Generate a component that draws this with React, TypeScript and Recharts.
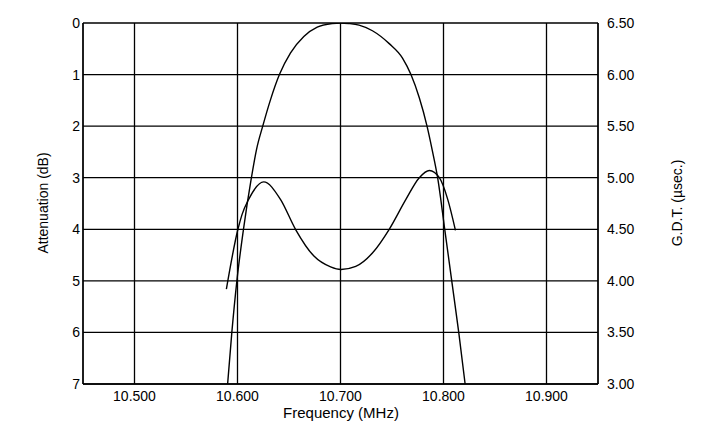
import { CartesianGrid, Label, Line, LineChart, XAxis, YAxis } from "recharts"

// attenuation curve (dB, left axis)
const attFreq = [
  10.5904, 10.5945, 10.5994, 10.6058, 10.6135, 10.6185, 10.6245, 10.632, 10.6407, 10.6515,
  10.6644, 10.6774, 10.692, 10.7002, 10.708, 10.718, 10.731, 10.7473, 10.7602, 10.7684,
  10.7765, 10.784, 10.7889, 10.7943, 10.8012, 10.808, 10.8148, 10.821,
]
const attDb = [
  7.0, 6.0, 5.0, 4.0, 3.0, 2.45, 2.0, 1.49, 1.0, 0.58,
  0.26, 0.08, 0.01, 0.0, 0.01, 0.04, 0.15, 0.4, 0.68, 1.0,
  1.45, 2.0, 2.45, 3.0, 4.0, 5.0, 6.0, 7.0,
]

// group delay time curve (usec, right axis)
const gdtFreq = [
  10.5892, 10.6004, 10.6043, 10.6108, 10.6254, 10.6417, 10.6563, 10.6742, 10.6904, 10.7005,
  10.7148, 10.731, 10.7473, 10.7635, 10.7765, 10.7863, 10.796, 10.8041, 10.8116,
]
const gdtUsec = [
  3.92, 4.5, 4.64, 4.79, 4.96, 4.79, 4.5, 4.24, 4.135, 4.11,
  4.14, 4.27, 4.5, 4.79, 5.0, 5.07, 5.0, 4.79, 4.49,
]

const freqTicks = [10.5, 10.6, 10.7, 10.8, 10.9]
const attTicks = [0, 1, 2, 3, 4, 5, 6, 7]
const gdtTicks = [3.0, 3.5, 4.0, 4.5, 5.0, 5.5, 6.0, 6.5]

const attData = attFreq.map((f, i) => ({ f, att: attDb[i] }))
const gdtData = gdtFreq.map((f, i) => ({ f, gdt: gdtUsec[i] }))

const font = "'Liberation Sans', Arial, sans-serif"
const tickStyle = { fill: "#000", fontSize: 14, fontFamily: font }

export default function App() {
  return (
    <div style={{ position: "absolute", left: 0, top: 0, background: "#fff" }}>
      <LineChart width={702} height={445} margin={{ top: 23, right: 0, bottom: 0, left: 0 }}>
        <CartesianGrid yAxisId="att" stroke="#000" strokeWidth={1.3} />
        <XAxis
          dataKey="f"
          type="number"
          domain={[10.45, 10.95]}
          ticks={freqTicks}
          allowDataOverflow
          height={61}
          tickLine={false}
          tickSize={0}
          tickMargin={7}
          stroke="#000"
          strokeWidth={1.3}
          tick={tickStyle}
          tickFormatter={(v: number) => v.toFixed(3)}
        >
          <Label
            content={() => (
              <text x={341} y={418} textAnchor="middle" fontSize={15} fontFamily={font} fill="#000">
                Frequency (MHz)
              </text>
            )}
          />
        </XAxis>
        <YAxis
          yAxisId="att"
          type="number"
          domain={[0, 7]}
          ticks={attTicks}
          reversed
          allowDataOverflow
          width={83}
          tickLine={false}
          tickSize={0}
          tickMargin={3}
          stroke="#000"
          strokeWidth={1.3}
          tick={tickStyle}
        >
          <Label
            content={() => (
              <text
                x={43}
                y={203}
                transform="rotate(-90 43 203)"
                textAnchor="middle"
                dominantBaseline="central"
                fontSize={14}
                fontFamily={font}
                fill="#000"
              >
                Attenuation (dB)
              </text>
            )}
          />
        </YAxis>
        <YAxis
          yAxisId="gdt"
          orientation="right"
          type="number"
          domain={[3, 6.5]}
          ticks={gdtTicks}
          allowDataOverflow
          width={104}
          tickLine={false}
          tickSize={0}
          tickMargin={9}
          stroke="#000"
          strokeWidth={1.3}
          tick={tickStyle}
          tickFormatter={(v: number) => v.toFixed(2)}
        >
          <Label
            content={() => (
              <text
                x={677}
                y={203}
                transform="rotate(-90 677 203)"
                textAnchor="middle"
                dominantBaseline="central"
                fontSize={14}
                fontFamily={font}
                fill="#000"
              >
                G.D.T. (µsec.)
              </text>
            )}
          />
        </YAxis>
        <Line
          yAxisId="att"
          data={attData}
          dataKey="att"
          type="monotone"
          stroke="#000"
          strokeWidth={1.4}
          dot={false}
          activeDot={false}
          isAnimationActive={false}
        />
        <Line
          yAxisId="gdt"
          data={gdtData}
          dataKey="gdt"
          type="monotone"
          stroke="#000"
          strokeWidth={1.4}
          dot={false}
          activeDot={false}
          isAnimationActive={false}
        />
      </LineChart>
    </div>
  )
}
